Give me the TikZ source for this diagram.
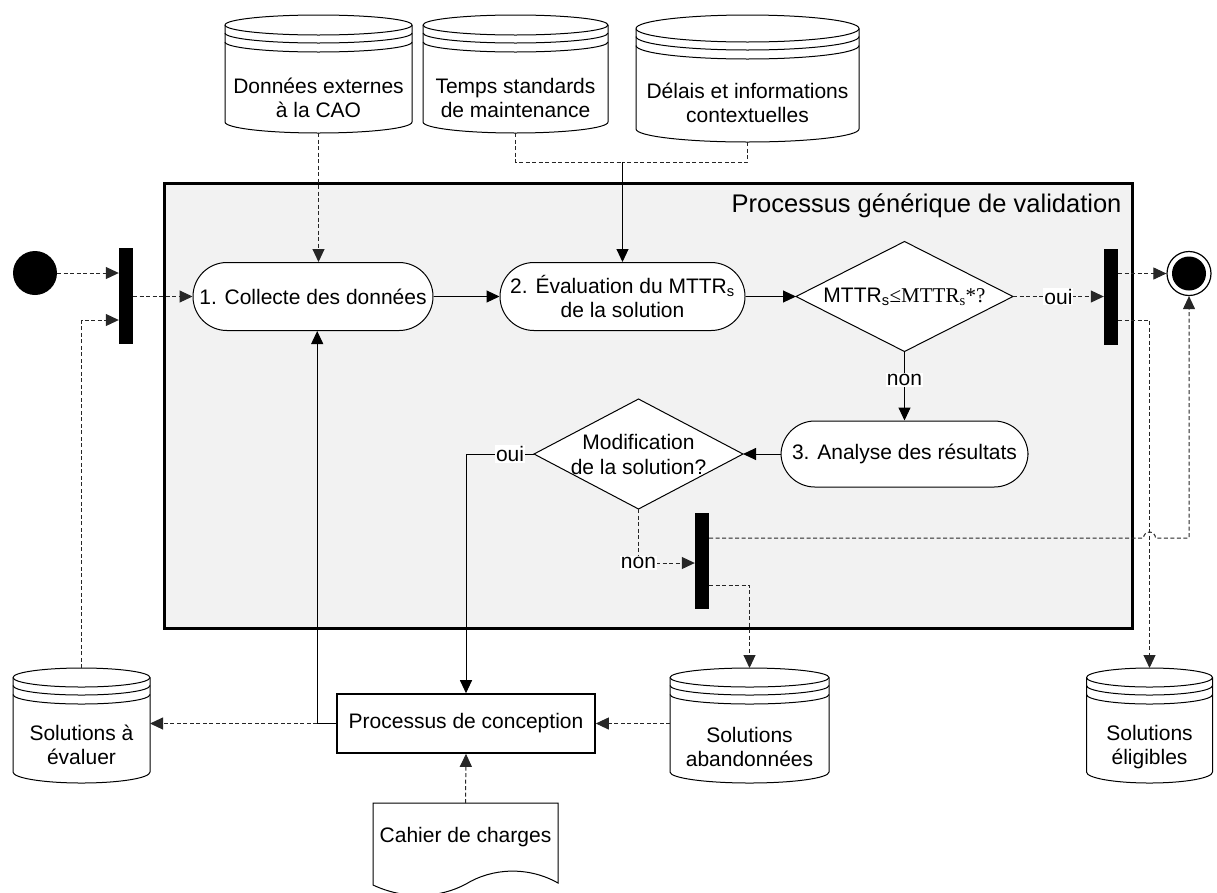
\documentclass[tikz,border=0pt]{standalone}
\usepackage{fontspec}
\setmainfont{Liberation Sans}
\newfontfamily\timesf{Liberation Serif}
\usetikzlibrary{arrows.meta,calc}

\definecolor{poolgray}{HTML}{F2F2F2}
\definecolor{dashgray}{HTML}{262626}

\tikzset{
  every node/.style={font=\fontsize{21}{24}\selectfont},
  tip/.style={-{Triangle[length=13pt,width=12pt]}},
  flow/.style={line width=1pt, tip},
  dline/.style={line width=1pt, draw=dashgray, dash pattern=on 4pt off 2.5pt},
  dflow/.style={dline, tip},
  act/.style={draw, line width=1pt, fill=white, rounded corners=33.9pt,
    minimum height=68pt, inner sep=0pt, align=center},
  bar/.style={fill=black, minimum width=14pt, minimum height=96pt, inner sep=0pt},
  lbl/.style={fill=white, inner sep=1pt},
  frame/.style={inner sep=0pt, outer sep=0pt},
}

% database drum: name, centre x, top y, bottom y, half width, top radius, bottom radius, text y, text
\newcommand{\drumdb}[9]{%
  \node[frame, minimum width={2*#5pt}, minimum height={(#4-#3)*1pt}, anchor=north] (#1) at (#2,-#3) {};
  \draw[line width=1pt, fill=white] (#2-#5,-#3-#6) -- (#2-#5,-#4+#7)
    arc[start angle=180, end angle=360, x radius=#5pt, y radius=#7pt]
    -- (#2+#5,-#3-#6)
    arc[start angle=0, end angle=180, x radius=#5pt, y radius=#6pt] -- cycle;
  \foreach \dd in {0,8,17}
    \draw[line width=1pt] (#2-#5,-#3-#6-\dd)
      arc[start angle=180, end angle=360, x radius=#5pt, y radius=#6pt];
  \node[align=center, inner sep=0pt] (#1-t) at (#2,-#8) {#9};
}

\begin{document}
\begin{tikzpicture}[x=1pt,y=1pt]
\useasboundingbox (0,0) rectangle (1217,-892);

% swimlane of the validation process
\node[frame, draw, line width=3pt, fill=poolgray, minimum width=968pt,
  minimum height=445pt, anchor=north west] (pool) at (164,-183) {};
\node[font=\fontsize{25.5}{30}\selectfont, anchor=base east] (title) at (1125,-212)
  {Processus générique de validation};

% data stores above
\drumdb{c1}{318.5}{15}{133}{93.5}{10}{11}{98}{Données externes\\à la CAO}
\drumdb{c2}{515.5}{15}{133}{92.5}{10}{11}{98}{Temps standards\\de maintenance}
\drumdb{c3}{747.5}{15}{142}{111.5}{13.5}{13}{103}{Délais et informations\\contextuelles}

% data stores below
\drumdb{soleval}{81.5}{668}{783}{68.5}{9.5}{11}{745}{Solutions à\\évaluer}
\drumdb{solab}{749.5}{668}{783}{79.5}{9.5}{11}{747}{Solutions\\abandonnées}
\drumdb{solel}{1149.5}{668}{783}{63}{9.5}{11}{747}{Solutions\\éligibles}

% initial and final states
\node[circle, fill=black, minimum size=44pt, inner sep=0pt] (start) at (35,-273) {};
\node[circle, draw, line width=1.2pt, fill=white, minimum size=44pt, inner sep=0pt] (stop) at (1189,-273.5) {};
\node[circle, fill=black, minimum size=34pt, inner sep=0pt] (stopdot) at (stop) {};

% synchronisation bars
\node[bar] (bar1) at (126,-296) {};
\node[bar] (bar2) at (1111,-296.5) {};
\node[bar] (bar3) at (702,-561) {};

% activities
\node[act, minimum width=240pt] (collect) at (313,-296.5) {1. Collecte des données};
\node[act, minimum width=245pt] (eval) at (622.5,-296.5)
  {2. Évaluation du MTTR\textsubscript{s}\\de la solution};
\node[act, minimum width=247pt, minimum height=66pt] (anal) at (904.5,-454) {3. Analyse des résultats};

% decisions
\node[frame, minimum width=217pt, minimum height=110pt] (dec1) at (904.5,-296.5) {};
\draw[line width=1pt, fill=white] (dec1.north) -- (dec1.east) -- (dec1.south) -- (dec1.west) -- cycle;
\node (dec1-t) at (dec1) {MTTR\textsubscript{s}{\timesf ≤MTTR\textsubscript{s}*?}};

\node[frame, minimum width=209pt, minimum height=110pt] (dec2) at (638.5,-454) {};
\draw[line width=1pt, fill=white] (dec2.north) -- (dec2.east) -- (dec2.south) -- (dec2.west) -- cycle;
\node[align=center, font=\fontsize{21}{25}\selectfont] (dec2-t) at (dec2) {Modification\\de la solution?};

% design process and specification
\node[draw, line width=1.6pt, fill=white, minimum width=258pt, minimum height=59pt,
  inner sep=0pt] (proc) at (466,-723.5) {Processus de conception};
\node[frame, minimum width=185pt, minimum height=82pt, anchor=north] (cahier) at (465.5,-803) {};
\draw[line width=1pt, fill=white] (373,-885) -- (cahier.north west) -- (cahier.north east) -- (558,-883)
  .. controls (528,-866) and (492,-868) .. (466,-884)
  .. controls (440,-898) and (405,-900) .. (373,-885) -- cycle;
\node (cahier-t) at (465.5,-837) {Cahier de charges};

% connectors: entry
\draw[dflow] (start) -- (bar1.west |- start);
\draw[dflow] (bar1.east |- collect) -- (collect.west);
\draw[dflow] (soleval.north) |- ([yshift=-24pt]bar1.west);

% connectors: data stores to activities
\draw[dflow] (c1.south) -- (c1.south |- collect.north);
\coordinate (jn) at ([yshift=100pt]eval.north);
\draw[dline] (c2.south) |- (jn);
\draw[dline] (c3.south) |- (jn);
\draw[flow] (jn) -- (eval.north);

% connectors: main flow
\draw[flow] (collect) -- (eval);
\draw[flow] (eval.east) -- (eval.east -| dec1.west);
\draw[dflow] (dec1.east) -- node[lbl] {oui} (dec1.east -| bar2.west);
\draw[dflow] (bar2.east |- stop) -- (stop.west);
\draw[dflow] ([yshift=-23.5pt]bar2.east) -| (solel.north);
\draw[flow] (dec1.south) -- node[lbl, pos=0.41] {non} (anal.north);
\draw[flow] (anal.west) -- (dec2.east);
\draw[flow] (dec2.west) -| node[lbl, pos=0.176] {oui} (proc.north);
\draw[dflow] (dec2.south) |- node[lbl, pos=0.5] {non} ([yshift=-2pt]bar3.west);

% connectors: exit of the rejected branch, hopping over the eligible branch
\coordinate (b3a) at ([yshift=23pt]bar3.east);
\draw[dflow] (b3a) -- ([xshift=-6pt]b3a -| solel.north)
  arc[start angle=180, end angle=0, radius=6pt]
  -- (b3a -| stop.south) -- (stop.south);
\draw[dflow] ([yshift=-24pt]bar3.east) -| (solab.north);

% connectors: design loop
\draw[dflow] (solab.west |- proc.east) -- (proc.east);
\coordinate (pj) at ([xshift=-19pt]proc.west);
\draw[flow] (proc.west) -- (pj) -- (pj |- collect.south);
\draw[dflow] (pj) -- (pj -| soleval.east);
\draw[dflow] (cahier.north) -- (proc.south);
\end{tikzpicture}
\end{document}
